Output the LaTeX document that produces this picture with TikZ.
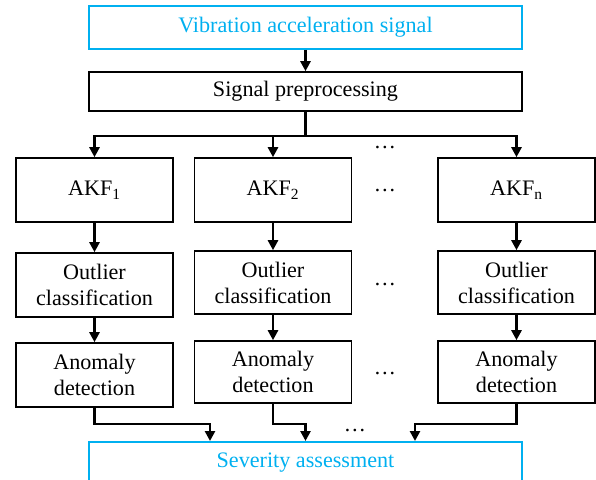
\documentclass[tikz,border=0pt]{standalone}
\usepackage{fontspec}
\setmainfont{Liberation Serif}
\usetikzlibrary{arrows.meta, calc}
\definecolor{skyblue}{RGB}{0,176,240}

\begin{document}
\begin{tikzpicture}[x=0.75pt, y=-0.75pt]
 \tikzstyle{box}=[rectangle, draw, line width=1.2pt, align=center, inner sep=2pt, font=\fontsize{16.6}{19.5}\selectfont, minimum width=117.75pt, minimum height=48pt]
 \tikzstyle{widebox}=[box, minimum width=324.75pt]
 \tikzstyle{bluebox}=[widebox, draw=skyblue, text=skyblue]
 \tikzstyle{dots}=[font=\fontsize{16.6}{19.5}\selectfont, inner sep=0pt]
 \tikzstyle{arr}=[-{Triangle[length=7.5pt, width=7.5pt]}, line width=1.9pt]

 \useasboundingbox (0,0) rectangle (596,479);

 % Input and preprocessing
 \node (nsignal) at (305.5,27.5) [bluebox, minimum height=32.25pt] {Vibration acceleration signal};
 \node (npreproc) at (305.5,91.5) [widebox, minimum height=29.25pt] {Signal preprocessing};

 % Filters
 \node (nakf1) at (94.5,190) [box] {AKF\textsubscript{1}};
 \node (nakf2) at (273,190) [box] {AKF\textsubscript{2}};
 \node (nakfn) at (516.5,190) [box] {AKF\textsubscript{n}};

 % Outlier classification
 \node (noutlier1) at (94.5,285) [box] {Outlier\\classification};
 \node (noutlier2) at (273,282.5) [box, minimum height=47.25pt] {Outlier\\classification};
 \node (noutliern) at (516.5,282.5) [box, minimum height=47.25pt] {Outlier\\classification};

 % Anomaly detection
 \node (nanomaly1) at (94.5,375) [box] {Anomaly\\detection};
 \node (nanomaly2) at (273,372) [box, minimum height=46.5pt] {Anomaly\\detection};
 \node (nanomalyn) at (516.5,372) [box, minimum height=46.5pt] {Anomaly\\detection};

 % Severity
 \node (nsev) at (305.5,441) [bluebox, anchor=north, minimum height=0pt, inner ysep=0pt, text height=19.5pt, text depth=40pt] {Severity assessment};

 % Dots
 \node (ndots0) at (385,148) [dots] {\dots};
 \node (ndots1) at (385,191) [dots] {\dots};
 \node (ndots2) at (385,284) [dots] {\dots};
 \node (ndots3) at (385,373) [dots] {\dots};
 \node (ndots4) at (355,430) [dots] {\dots};

 % Preprocessing
 \draw [arr] (nsignal) -- (npreproc);
 \draw [arr] (npreproc.south) -- ++(0,24) -| (nakf1.north);
 \draw [arr] (npreproc.south) -- ++(0,24) -| (nakf2.north);
 \draw [arr] (npreproc.south) -- ++(0,24) -| (nakfn.north);

 % Columns
 \draw [arr] (nakf1) -- (noutlier1);
 \draw [arr] (nakf2) -- (noutlier2);
 \draw [arr] (nakfn) -- (noutliern);
 \draw [arr] (noutlier1) -- (nanomaly1);
 \draw [arr] (noutlier2) -- (nanomaly2);
 \draw [arr] (noutliern) -- (nanomalyn);

 % Assessment
 \draw [arr] (nanomaly1.south) -- ++(0,16) -| ($ (nsev.north) + (-95.5,0) $);
 \draw [arr] (nanomaly2.south) -- ++(0,20) -| (nsev.north);
 \draw [arr] (nanomalyn.south) -- ++(0,20) -| ($ (nsev.north) + (109.5,0) $);

\end{tikzpicture}
\end{document}
